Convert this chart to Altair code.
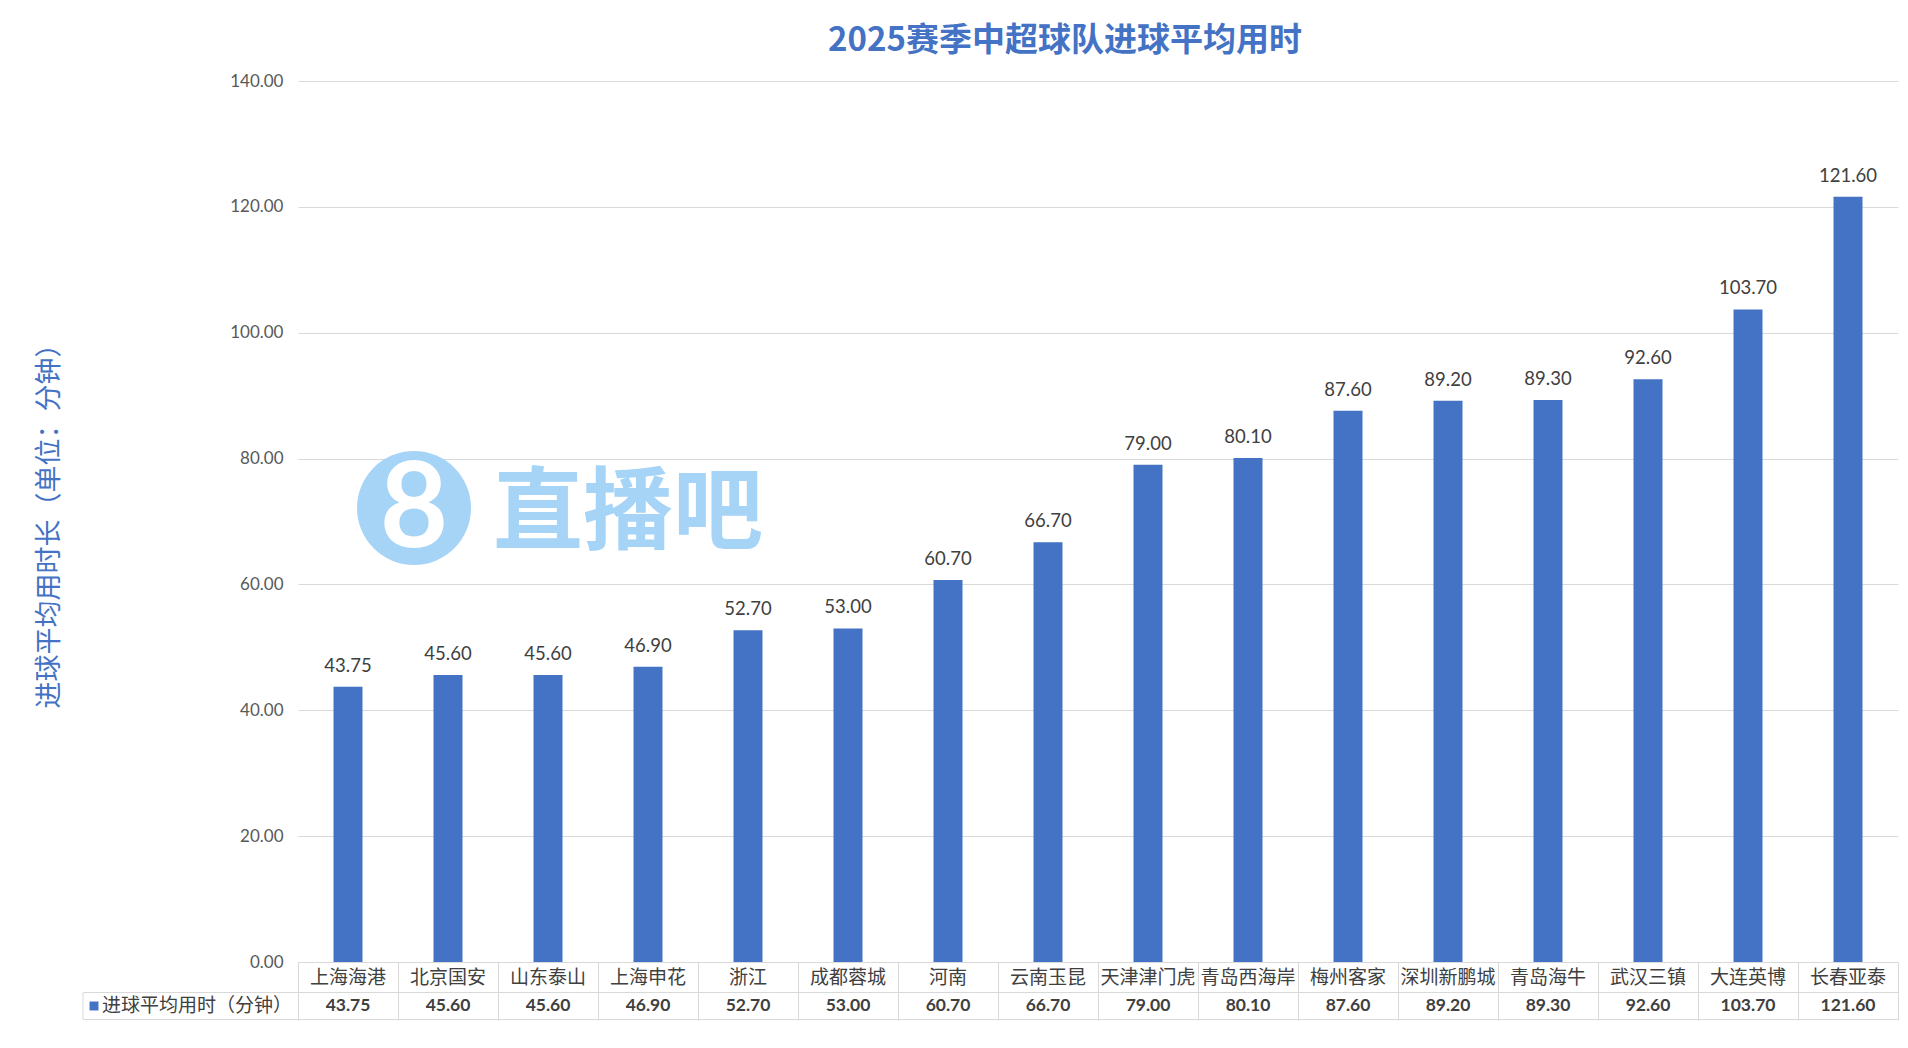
import altair as alt
import pandas as pd

# data
teams = ["上海海港", "北京国安", "山东泰山", "上海申花", "浙江", "成都蓉城", "河南", "云南玉昆",
         "天津津门虎", "青岛西海岸", "梅州客家", "深圳新鹏城", "青岛海牛", "武汉三镇", "大连英博", "长春亚泰"]
minutes = [43.75, 45.60, 45.60, 46.90, 52.70, 53.00, 60.70, 66.70,
           79.00, 80.10, 87.60, 89.20, 89.30, 92.60, 103.70, 121.60]
y_ticks = [0, 20, 40, 60, 80, 100, 120, 140]
series_name = "进球平均用时（分钟）"
y_title = "进球平均用时长（单位：分钟）"
chart_title = "2025赛季中超球队进球平均用时"

W, H = 1600, 881
BLUE = "#4472C4"
GRID = "#D9D9D9"
CJK = "Noto Sans CJK SC"
NUM = "Lato"
MARK = "#A6D4F7"

df = pd.DataFrame({"team": teams, "minutes": minutes})
one = pd.DataFrame({"k": [0]})

x_enc = alt.X(
    "team:N", sort=teams, title=None,
    scale=alt.Scale(paddingInner=0, paddingOuter=0),
    axis=alt.Axis(labels=False, tickBand="extent", tickSize=58, tickColor=GRID,
                  tickWidth=1, domainColor=GRID),
)
y_enc = alt.Y(
    "minutes:Q", scale=alt.Scale(domain=[0, 140]),
    axis=alt.Axis(values=y_ticks, format=".2f", ticks=False, domain=False,
                  gridColor=GRID, labelFont=NUM, labelFontSize=17, labelColor="#595959",
                  labelPadding=15, title=y_title, titleFont=CJK, titleFontSize=27,
                  titleFontWeight="normal", titleColor=BLUE, titleX=-249, titleY=438,
                  titleBaseline="middle", titleAngle=270),
)

# watermark
wm_circle = alt.Chart(one).mark_circle(color=MARK, opacity=1, size=13000).encode(
    x=alt.value(116), y=alt.value(427))
wm_eight = alt.Chart(one).mark_text(text="8", font=NUM, fontSize=118, fontWeight="bold",
                                    color="white", baseline="middle").encode(
    x=alt.value(116), y=alt.value(431))
wm_text = alt.Chart(one).mark_text(text="直播吧", font=CJK, fontSize=90, fontWeight="bold",
                                   color=MARK, baseline="middle").encode(
    x=alt.value(330), y=alt.value(434))

bars = alt.Chart(df).mark_bar(color=BLUE, size=29).encode(x=x_enc, y=y_enc)

bar_labels = alt.Chart(df).mark_text(
    font=NUM, fontSize=18.5, color="#404040", baseline="bottom", dy=-11
).encode(x=x_enc, y=y_enc, text=alt.Text("minutes:Q", format=".2f"))

# data table under the axis
cat_row = alt.Chart(df).mark_text(
    font=CJK, fontSize=19, color="#404040", baseline="middle"
).encode(x=x_enc, y=alt.value(H + 16), text="team:N")

val_row = alt.Chart(df).mark_text(
    font=NUM, fontSize=17.5, fontWeight="bold", color="#404040", baseline="middle"
).encode(x=x_enc, y=alt.value(H + 44), text=alt.Text("minutes:Q", format=".2f"))

line1 = alt.Chart(one).mark_rule(color=GRID, strokeWidth=1).encode(
    x=alt.value(-215), x2=alt.value(W), y=alt.value(H + 30.5))
line2 = alt.Chart(one).mark_rule(color=GRID, strokeWidth=1).encode(
    x=alt.value(-215), x2=alt.value(W), y=alt.value(H + 57.5))
line3 = alt.Chart(one).mark_rule(color=GRID, strokeWidth=1).encode(
    x=alt.value(-215), y=alt.value(H + 30.5), y2=alt.value(H + 57.5))

legend_sq = alt.Chart(one).mark_square(color=BLUE, size=80, opacity=1).encode(
    x=alt.value(-204), y=alt.value(H + 44))
legend_txt = alt.Chart(one).mark_text(
    text=series_name, font=CJK, fontSize=19, color="#404040", align="left", baseline="middle"
).encode(x=alt.value(-196), y=alt.value(H + 44))

chart = (
    alt.layer(wm_circle, wm_eight, wm_text, bars, bar_labels, cat_row, val_row,
              line1, line2, line3, legend_sq, legend_txt)
    .properties(
        width=W, height=H,
        autosize=alt.AutoSizeParams(type="none"),
        padding={"left": 290, "top": 73, "right": 2, "bottom": 62},
        title=alt.TitleParams(chart_title, font=CJK, fontSize=33, fontWeight="bold",
                              color=BLUE, anchor="middle", dx=-33, frame="group",
                              offset=-19, baseline="bottom"),
    )
    .configure_view(stroke=None)
)

chart.save("out.html", embed_options={"renderer": "svg", "actions": False})
